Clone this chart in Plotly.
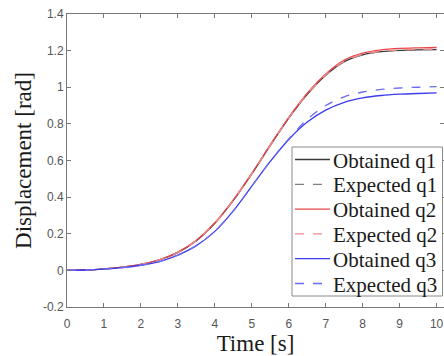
import plotly.graph_objects as go

t = [0, 0.5, 1, 1.5, 2, 2.5, 3, 3.5, 4, 4.5, 5, 5.5, 6, 6.5, 7, 7.5, 8, 8.5, 9, 9.5, 10]

obtained_q1 = [0, 0.002, 0.008, 0.018, 0.033, 0.058, 0.098, 0.162, 0.257, 0.382, 0.527, 0.682, 0.832, 0.962, 1.066, 1.14, 1.177, 1.194, 1.201, 1.204, 1.206]
expected_q1 = [0, 0.002, 0.008, 0.018, 0.033, 0.058, 0.098, 0.162, 0.257, 0.382, 0.527, 0.682, 0.832, 0.962, 1.066, 1.14, 1.178, 1.195, 1.202, 1.205, 1.207]
obtained_q2 = [0, 0.002, 0.008, 0.018, 0.033, 0.058, 0.10, 0.165, 0.26, 0.385, 0.53, 0.685, 0.835, 0.967, 1.072, 1.148, 1.186, 1.204, 1.212, 1.215, 1.217]
expected_q2 = [0, 0.002, 0.008, 0.018, 0.033, 0.058, 0.099, 0.163, 0.258, 0.383, 0.528, 0.683, 0.833, 0.964, 1.068, 1.143, 1.18, 1.197, 1.204, 1.207, 1.209]
obtained_q3 = [0, 0.002, 0.007, 0.015, 0.028, 0.048, 0.083, 0.135, 0.213, 0.325, 0.46, 0.595, 0.715, 0.81, 0.875, 0.918, 0.942, 0.955, 0.962, 0.966, 0.969]
expected_q3 = [0, 0.002, 0.007, 0.015, 0.028, 0.048, 0.083, 0.135, 0.213, 0.325, 0.46, 0.596, 0.718, 0.825, 0.9, 0.948, 0.974, 0.988, 0.996, 1.0, 1.003]

x_ticks = [0, 1, 2, 3, 4, 5, 6, 7, 8, 9, 10]
y_ticks = [-0.2, 0, 0.2, 0.4, 0.6, 0.8, 1, 1.2, 1.4]
y_tick_text = ["-0.2", "0", "0.2", "0.4", "0.6", "0.8", "1", "1.2", "1.4"]

series = [
    ("Obtained q1", obtained_q1, "#3a3a3a", "solid"),
    ("Expected q1", expected_q1, "#808080", "dash"),
    ("Obtained q2", obtained_q2, "#e8474b", "solid"),
    ("Expected q2", expected_q2, "#f28a8a", "dash"),
    ("Obtained q3", obtained_q3, "#3b3bf0", "solid"),
    ("Expected q3", expected_q3, "#6b6bf5", "dash"),
]

serif = "Liberation Serif, Times New Roman, serif"
sans = "Liberation Sans, Arial, sans-serif"

fig = go.Figure()
for name, vals, color, dash in series:
    fig.add_trace(go.Scatter(
        x=t, y=vals, name=name, mode="lines", showlegend=False,
        line=dict(color=color, width=1.3, dash=dash, shape="spline", smoothing=0.8),
    ))

W, H = 444, 356
# plot area in window pixels
L, R, T, B = 67, 444, 14, 307
pw, ph = R - L, B - T
def px(xp):
    return (xp - L) / pw
def py(yp):
    return (B - yp) / ph

shapes = [dict(type="rect", xref="paper", yref="paper",
               x0=px(292), x1=px(442.5), y0=py(296), y1=py(147),
               line=dict(color="#8a8a8a", width=1), fillcolor="white", layer="above")]
annotations = []
for i, (name, vals, color, dash) in enumerate(series):
    yy = 159.5 + 24.8 * i
    shapes.append(dict(type="line", xref="paper", yref="paper",
                       x0=px(295), x1=px(330), y0=py(yy), y1=py(yy),
                       line=dict(color=color, width=1.3, dash=dash), layer="above"))
    annotations.append(dict(xref="paper", yref="paper", x=px(331), y=py(yy + 1),
                            xanchor="left", yanchor="middle", showarrow=False,
                            text=name, font=dict(family=serif, size=21, color="#1a1a1a")))

fig.update_layout(
    width=W, height=H,
    margin=dict(l=L, r=W - R, t=T, b=H - B, autoexpand=False),
    plot_bgcolor="white", paper_bgcolor="white",
    showlegend=False,
    shapes=shapes, annotations=annotations,
)
fig.update_xaxes(
    range=[0, 10.2], tickvals=x_ticks, ticks="inside", ticklen=4,
    tickcolor="#777", showline=True, linecolor="#777", linewidth=1,
    mirror="ticks", showgrid=False, zeroline=False, automargin=False,
    tickfont=dict(family=sans, size=12, color="#555"), ticklabelstandoff=6,
    ticklabeloverflow="allow",
    title=dict(text="Time [s]", font=dict(family=serif, size=23, color="#1a1a1a"), standoff=9),
)
fig.update_yaxes(
    range=[-0.2, 1.4], tickvals=y_ticks, ticktext=y_tick_text, ticks="inside", ticklen=4,
    tickcolor="#777", showline=True, linecolor="#777", linewidth=1,
    mirror="ticks", showgrid=False, zeroline=False, automargin=False,
    tickfont=dict(family=sans, size=12, color="#555"), ticklabeloverflow="allow",
    title=dict(text="Displacement [rad]", font=dict(family=serif, size=23, color="#1a1a1a"), standoff=4),
)

fig.write_html(
    "out.html",
    config={"displayModeBar": False},
    post_script="document.body.style.margin='0';document.body.style.overflow='hidden';",
)
